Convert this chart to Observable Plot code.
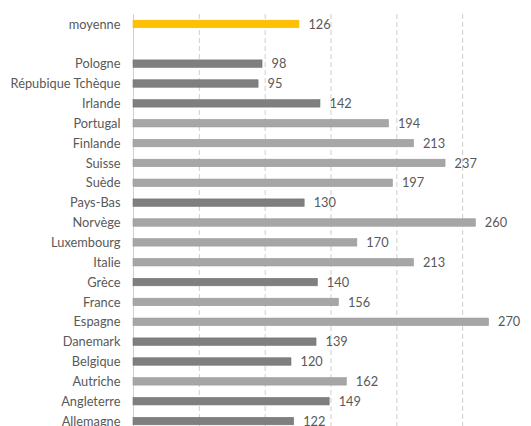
<!DOCTYPE html>
<html>
<head>
<meta charset="utf-8">
<script src="https://cdn.jsdelivr.net/npm/d3@7"></script>
<script src="https://cdn.jsdelivr.net/npm/@observablehq/plot@0.6"></script>
<style>
  html, body { margin: 0; padding: 0; background: #fff; overflow: hidden; }
</style>
</head>
<body>
<div id="chart"></div>
<script>
const countries = ["moyenne", " ", "Pologne", "Répubique Tchèque", "Irlande", "Portugal", "Finlande", "Suisse", "Suède", "Pays-Bas", "Norvège", "Luxembourg", "Italie", "Grèce", "France", "Espagne", "Danemark", "Belgique", "Autriche", "Angleterre", "Allemagne"];
const values = [126, null, 98, 95, 142, 194, 213, 237, 197, 130, 260, 170, 213, 140, 156, 270, 139, 120, 162, 149, 122];
const groups = ["moyenne", null, "sombre", "sombre", "sombre", "clair", "clair", "clair", "clair", "sombre", "clair", "clair", "clair", "sombre", "clair", "clair", "sombre", "sombre", "clair", "sombre", "sombre"];
const gridTicks = [50, 100, 150, 200, 250];

const data = countries.map((c, i) => ({country: c, value: values[i], group: groups[i]}))
  .filter(d => d.value != null);
const colorOf = {moyenne: "#ffc000", sombre: "#7f7f7f", clair: "#a6a6a6"};
const strokeOf = {moyenne: "#f5b800", sombre: "#737373", clair: "#999999"};

const chart = Plot.plot({
  width: 531,
  height: 431,
  marginLeft: 133,
  marginRight: 3,
  marginTop: 14,
  marginBottom: 0,
  style: {fontFamily: "Lato, 'Open Sans', sans-serif", fontSize: "12px", background: "#fff"},
  x: {domain: [0, 300], axis: null},
  y: {domain: countries, padding: 0, round: false, axis: null, label: null},
  marks: [
    Plot.ruleX(gridTicks, {stroke: "#cfcfcf", strokeDasharray: "5,3", strokeWidth: 1}),
    Plot.ruleX([0], {stroke: "#d0d0d0", strokeWidth: 1}),
    Plot.barX(data, {
      x: "value", y: "country",
      fill: d => colorOf[d.group],
      stroke: d => strokeOf[d.group], strokeWidth: 0.6,
      insetTop: 6.2, insetBottom: 6.2
    }),
    Plot.text(data, {
      x: "value", y: "country", text: d => String(d.value),
      textAnchor: "start", dx: 9, fill: "#595959", fontSize: 12.8
    }),
    Plot.axisY({tickSize: 0, tickPadding: 13, fill: "#595959", fontSize: 12.8, label: null, tickFormat: d => d})
  ]
});
document.getElementById("chart").appendChild(chart);
</script>
</body>
</html>
